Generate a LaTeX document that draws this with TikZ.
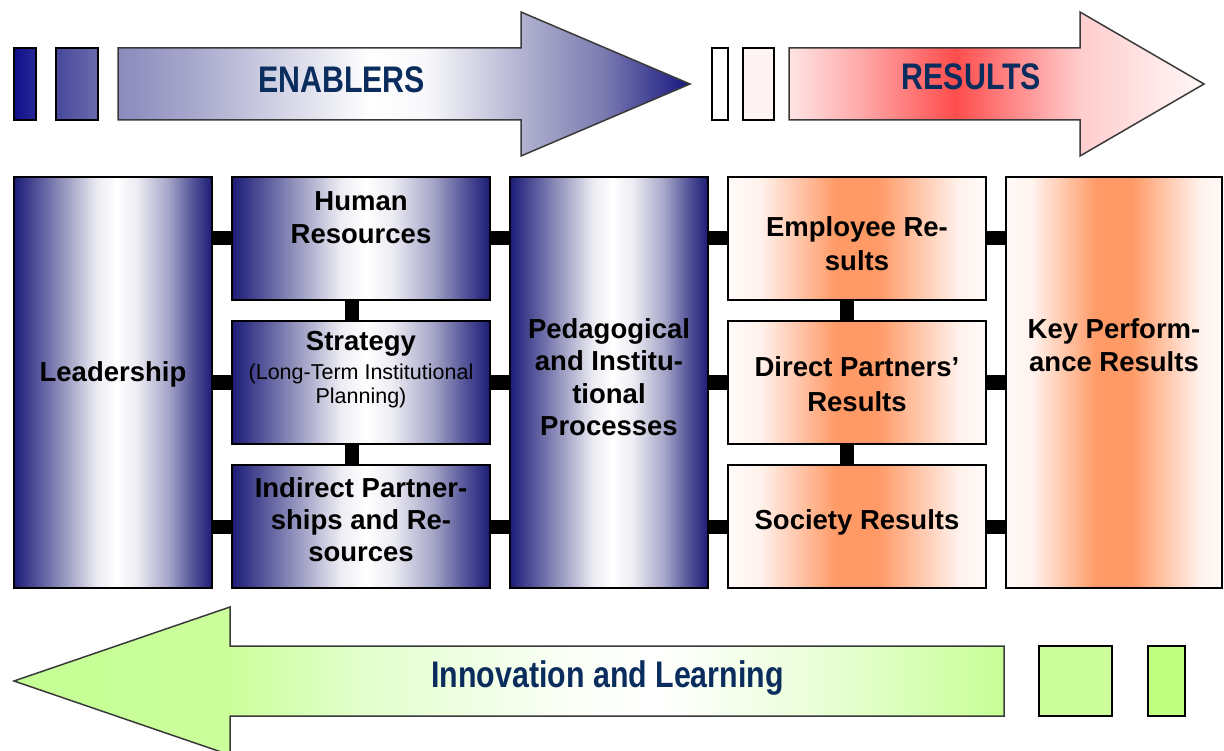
\documentclass[tikz,border=0pt]{standalone}
\usepackage{fontspec}
\setmainfont{Liberation Sans}
\newfontfamily\narrowsans[FakeStretch=0.82]{Liberation Sans}

% palette
\definecolor{navyD}{HTML}{1C1C78}
\definecolor{navyA}{HTML}{55559A}
\definecolor{navyB}{HTML}{A5A5C8}
\definecolor{navyC}{HTML}{ECECF3}
\definecolor{orangeP}{HTML}{FF9A66}
\definecolor{orangeW}{HTML}{FFF3EE}
\definecolor{orangeE}{HTML}{FFFAF8}
\definecolor{titleblue}{HTML}{0A2D5E}
\definecolor{arrowline}{HTML}{3A3A3A}
\definecolor{tickA}{HTML}{10108A}
\definecolor{tickAr}{HTML}{282896}
\definecolor{tickB}{HTML}{48489C}
\definecolor{tickBr}{HTML}{6A6AAC}
\definecolor{tickR}{HTML}{FFF4F4}
\definecolor{tickG}{HTML}{CCFF99}
\definecolor{tickGr}{HTML}{C0FF80}
\definecolor{enA}{HTML}{8A8ABD}
\definecolor{enB}{HTML}{AAAACE}
\definecolor{enC}{HTML}{F8F8FB}
\definecolor{enD}{HTML}{B4B4D2}
\definecolor{enE}{HTML}{7A7AB0}
\definecolor{enF}{HTML}{161680}
\definecolor{reA}{HTML}{FFE4E4}
\definecolor{reB}{HTML}{FFAAAA}
\definecolor{reC}{HTML}{FF4D4D}
\definecolor{reD}{HTML}{FF9999}
\definecolor{reE}{HTML}{FFCCCC}
\definecolor{reF}{HTML}{FFF8F8}
\definecolor{leA}{HTML}{C4FF94}
\definecolor{leB}{HTML}{CCFF9C}
\definecolor{leC}{HTML}{E2FFCC}
\definecolor{leD}{HTML}{FAFFF5}
\definecolor{leE}{HTML}{ECFFDC}
\definecolor{leF}{HTML}{C8FF96}

% horizontal colour ramps; 25bp..75bp spans the filled shape
\pgfdeclarehorizontalshading{navyfade}{100bp}{%
  color(0bp)=(navyD); color(25bp)=(navyD); color(31bp)=(navyA);
  color(39bp)=(navyB); color(46bp)=(navyC); color(51bp)=(white);
  color(56bp)=(navyC); color(64bp)=(navyB); color(70bp)=(navyA);
  color(75bp)=(navyD); color(100bp)=(navyD)}
\pgfdeclarehorizontalshading{orangefade}{100bp}{%
  color(0bp)=(orangeE); color(25bp)=(orangeE); color(31bp)=(orangeW);
  color(46bp)=(orangeP); color(54bp)=(orangeP); color(70bp)=(orangeW);
  color(75bp)=(orangeE); color(100bp)=(orangeE)}
\pgfdeclarehorizontalshading{enablersfade}{100bp}{%
  color(0bp)=(enA); color(25bp)=(enA); color(32bp)=(enB);
  color(47bp)=(white); color(52bp)=(enC); color(60bp)=(enD);
  color(67.5bp)=(enE); color(75bp)=(enF); color(100bp)=(enF)}
\pgfdeclarehorizontalshading{resultsfade}{100bp}{%
  color(0bp)=(reA); color(25bp)=(reA); color(33.5bp)=(reB);
  color(45bp)=(reC); color(54bp)=(reD); color(60bp)=(reE);
  color(75bp)=(reF); color(100bp)=(reF)}
\pgfdeclarehorizontalshading{learningfade}{100bp}{%
  color(0bp)=(leA); color(25bp)=(leA); color(36bp)=(leB);
  color(42.5bp)=(leC); color(52.5bp)=(leD); color(57.5bp)=(white);
  color(65bp)=(leE); color(75bp)=(leF); color(100bp)=(leF)}

\begin{document}
\begin{tikzpicture}[x=1pt,y=-1pt,
  stagebox/.style={draw=black, line width=2pt, shade, inner sep=0pt},
  enabler/.style={stagebox, shading=navyfade},
  result/.style={stagebox, shading=orangefade},
  tallbox/.style={minimum width=198pt, minimum height=411pt},
  rowbox/.style={minimum width=258pt, minimum height=123pt},
  boxtext/.style={inner sep=0pt, align=center, text=black,
    font=\fontsize{27.5}{33}\selectfont\bfseries},
  subtext/.style={inner sep=0pt, align=center, text=black,
    font=\fontsize{21.5}{24}\selectfont},
  bigarrow/.style={draw=arrowline, line width=1.5pt, line join=miter},
  arrowtext/.style={inner sep=0pt, text=titleblue,
    font=\narrowsans\bfseries\fontsize{37}{40}\selectfont},
  tick/.style={draw=black, line width=1.5pt, inner sep=0pt, minimum height=72pt},
  bar/.style={line width=14pt, draw=black}]

\useasboundingbox (0,0) rectangle (1224,751);

% ---------- top band: enablers and results ----------
\node[tick, minimum width=22pt, left color=tickA, right color=tickAr] (e1) at (25,84) {};
\node[tick, minimum width=42pt, left color=tickB, right color=tickBr] (e2) at (77,84) {};
\path[bigarrow, shade, shading=enablersfade]
  (118,48) -- (521,48) -- (521,12) -- (690,84) -- (521,156) -- (521,120)
  -- (118,120) -- cycle;
\node[arrowtext] (enablers) at (341.5,80) {ENABLERS};

\node[tick, minimum width=16pt, fill=white] (r1) at (720,84) {};
\node[tick, minimum width=31pt, fill=tickR] (r2) at (758.5,84) {};
\path[bigarrow, shade, shading=resultsfade]
  (789,48) -- (1080,48) -- (1080,12) -- (1204,84) -- (1080,156) -- (1080,120)
  -- (789,120) -- cycle;
\node[arrowtext] (results) at (971.5,77) {RESULTS};

% ---------- criteria boxes ----------
\node[enabler, tallbox] (lead) at (113,382.5) {};
\node[enabler, rowbox] (hr) at (361,238.5) {};
\node[enabler, rowbox] (strat) at (361,382.5) {};
\node[enabler, rowbox] (ind) at (361,526.5) {};
\node[enabler, tallbox] (ped) at (609,382.5) {};
\node[result, rowbox] (emp) at (857,238.5) {};
\node[result, rowbox] (dir) at (857,382.5) {};
\node[result, rowbox] (soc) at (857,526.5) {};
\node[result, minimum width=216pt, minimum height=411pt] (key) at (1114,382.5) {};

\node[boxtext] (leadtxt) at (113,374) {Leadership};
\node[boxtext] (hrtxt) at (361,217.5) {Human\\Resources};
\node[boxtext] (strattxt) at (361,344) {Strategy};
\node[subtext] (stratsub) at (361,386) {(Long-Term Institutional\\Planning)};
\node[boxtext, font=\fontsize{27.5}{32}\selectfont\bfseries] (indtxt) at (361,520)
  {Indirect Partner-\\ships and Re-\\sources};
\node[boxtext, font=\fontsize{27.5}{32.5}\selectfont\bfseries] (pedtxt) at (609,377)
  {Pedagogical\\and Institu-\\tional\\Processes};
\node[boxtext, font=\fontsize{27.5}{34}\selectfont\bfseries] (emptxt) at (857,243.5)
  {Employee Re-\\sults};
\node[boxtext, font=\fontsize{27.5}{35}\selectfont\bfseries] (dirtxt) at (857,384.5)
  {Direct Partners’\\Results};
\node[boxtext] (soctxt) at (857,522) {Society Results};
\node[boxtext] (keytxt) at (1114,345.5) {Key Perform-\\ance Results};

% ---------- links between criteria ----------
\foreach \b in {hr,strat,ind}{
  \draw[bar] (\b.west -| lead.east) -- (\b.west);
  \draw[bar] (\b.east) -- (\b.east -| ped.west);
}
\foreach \b in {emp,dir,soc}{
  \draw[bar] (\b.west -| ped.east) -- (\b.west);
  \draw[bar] (\b.east) -- (\b.east -| key.west);
}
\draw[bar] ([xshift=-9pt]hr.south) -- ([xshift=-9pt]strat.north);
\draw[bar] ([xshift=-9pt]strat.south) -- ([xshift=-9pt]ind.north);
\draw[bar] ([xshift=-10pt]emp.south) -- ([xshift=-10pt]dir.north);
\draw[bar] ([xshift=-10pt]dir.south) -- ([xshift=-10pt]soc.north);

% ---------- bottom band: innovation and learning ----------
\path[bigarrow, shade, shading=learningfade]
  (1004,646) -- (230,646) -- (230,607) -- (14,681) -- (230,755) -- (230,716)
  -- (1004,716) -- cycle;
\node[arrowtext] (learning) at (607.5,678) {Innovation and Learning};
\node[tick, minimum width=73pt, minimum height=70pt, fill=tickG] (g1) at (1075.5,681) {};
\node[tick, minimum width=37pt, minimum height=70pt, fill=tickGr] (g2) at (1166.5,681) {};

\end{tikzpicture}
\end{document}
